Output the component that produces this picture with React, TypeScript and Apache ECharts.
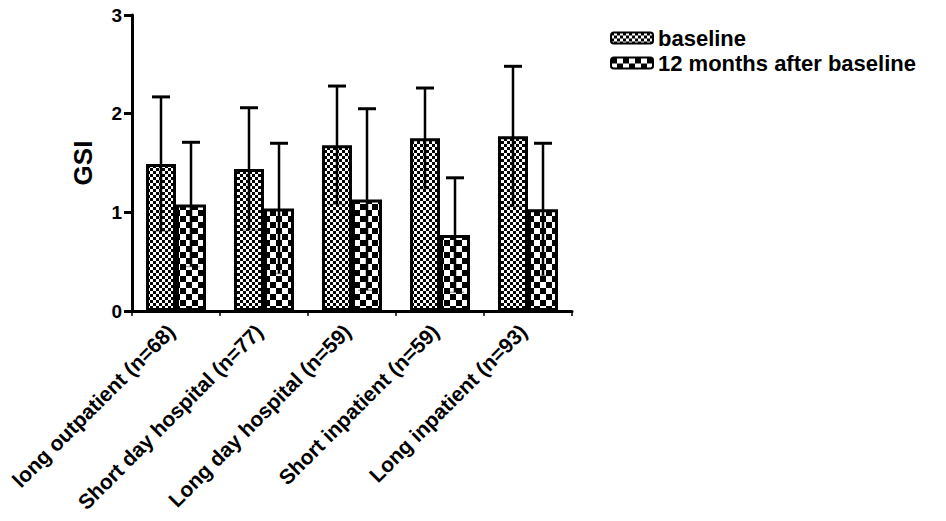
import React, { useEffect, useRef } from "react";
import * as echarts from "echarts";

const categories = [
  "long outpatient (n=68)",
  "Short day hospital (n=77)",
  "Long day hospital (n=59)",
  "Short inpatient (n=59)",
  "Long inpatient (n=93)",
];
const baselineMean = [1.49, 1.44, 1.68, 1.75, 1.77];
const baselineSD = [0.68, 0.62, 0.6, 0.51, 0.71];
const followMean = [1.08, 1.04, 1.13, 0.77, 1.03];
const followSD = [0.63, 0.66, 0.92, 0.58, 0.67];
const yTicks = [0, 1, 2, 3];

const FONT = "Liberation Sans, Arial, sans-serif";
const BAR_W = 30;

function checker(cell: number): HTMLCanvasElement {
  const c = document.createElement("canvas");
  c.width = cell * 2;
  c.height = cell * 2;
  const ctx = c.getContext("2d")!;
  ctx.fillStyle = "#ffffff";
  ctx.fillRect(0, 0, cell * 2, cell * 2);
  ctx.fillStyle = "#000000";
  ctx.fillRect(0, 0, cell, cell);
  ctx.fillRect(cell, cell, cell, cell);
  return c;
}

export default function App() {
  const ref = useRef<HTMLDivElement>(null);
  useEffect(() => {
    if (!ref.current) return;
    const chart = echarts.init(ref.current, undefined, { renderer: "svg" });
    const fine = { image: checker(3), repeat: "repeat" } as any;
    const coarse = { image: checker(6), repeat: "repeat" } as any;

    const errData = (means: number[], sds: number[]) =>
      means.map((m, i) => [i, m - sds[i], m + sds[i]]);

    const makeErr = (offsetSign: number) => (params: any, api: any) => {
      const i = api.value(0);
      const lo = api.coord([i, api.value(1)]);
      const hi = api.coord([i, api.value(2)]);
      const x = lo[0] + offsetSign * (BAR_W / 2);
      const cap = 9;
      return {
        type: "group",
        children: [
          {
            type: "line",
            shape: { x1: x, y1: lo[1], x2: x, y2: hi[1] },
            style: { stroke: "#000", lineWidth: 2.5 },
          },
          {
            type: "line",
            shape: { x1: x - cap, y1: hi[1], x2: x + cap, y2: hi[1] },
            style: { stroke: "#000", lineWidth: 3 },
          },
          {
            type: "line",
            shape: { x1: x - cap, y1: lo[1], x2: x + cap, y2: lo[1] },
            style: { stroke: "rgba(0,0,0,0.35)", lineWidth: 1.5 },
          },
        ],
      };
    };

    chart.setOption({
      animation: false,
      textStyle: { fontFamily: FONT },
      grid: {
        left: 132,
        right: 374,
        top: 15,
        bottom: 210,
        containLabel: false,
        outerBoundsMode: "none",
      },
      legend: {
        left: 605,
        top: 22,
        orient: "vertical",
        itemWidth: 42,
        itemHeight: 11,
        itemGap: 3,
        textStyle: { fontFamily: FONT, fontWeight: "bold", fontSize: 22, color: "#000" },
        data: ["baseline", "12 months after baseline"],
      },
      xAxis: {
        type: "category",
        data: categories,
        axisLine: { lineStyle: { color: "#000", width: 3 } },
        axisTick: { show: true, length: 5, lineStyle: { width: 1.5, color: "#000" } },
        axisLabel: {
          rotate: 45,
          interval: 0,
          fontFamily: FONT,
          fontWeight: "bold",
          fontSize: 21,
          color: "#000",
          margin: 12,
          verticalAlign: "middle",
          padding: [0, 7, 12, 0],
        },
      },
      yAxis: {
        type: "value",
        min: 0,
        max: 3,
        interval: 1,
        name: "GSI",
        nameLocation: "middle",
        nameGap: 36,
        nameTextStyle: { fontFamily: FONT, fontWeight: "bold", fontSize: 26, color: "#000" },
        splitLine: { show: false },
        axisLine: { show: true, lineStyle: { color: "#000", width: 3 } },
        axisTick: { show: true, length: 8, lineStyle: { width: 3, color: "#000" } },
        axisLabel: {
          fontFamily: FONT,
          fontWeight: "bold",
          fontSize: 19,
          color: "#000",
          margin: 10,
          formatter: (v: number) => (yTicks.includes(v) ? String(v) : ""),
        },
      },
      series: [
        {
          name: "baseline",
          type: "bar",
          data: baselineMean,
          barWidth: BAR_W,
          barGap: "0%",
          itemStyle: { color: fine, borderColor: "#000", borderWidth: 3 },
        },
        {
          name: "12 months after baseline",
          type: "bar",
          data: followMean,
          barWidth: BAR_W,
          barGap: "0%",
          itemStyle: { color: coarse, borderColor: "#000", borderWidth: 3 },
        },
        {
          type: "custom",
          renderItem: makeErr(-1),
          data: errData(baselineMean, baselineSD),
          z: 10,
          silent: true,
        },
        {
          type: "custom",
          renderItem: makeErr(1),
          data: errData(followMean, followSD),
          z: 10,
          silent: true,
        },
      ],
    });
    return () => chart.dispose();
  }, []);
  return (
    <div
      ref={ref}
      style={{ position: "absolute", left: 0, top: 0, width: 946, height: 521 }}
    />
  );
}
